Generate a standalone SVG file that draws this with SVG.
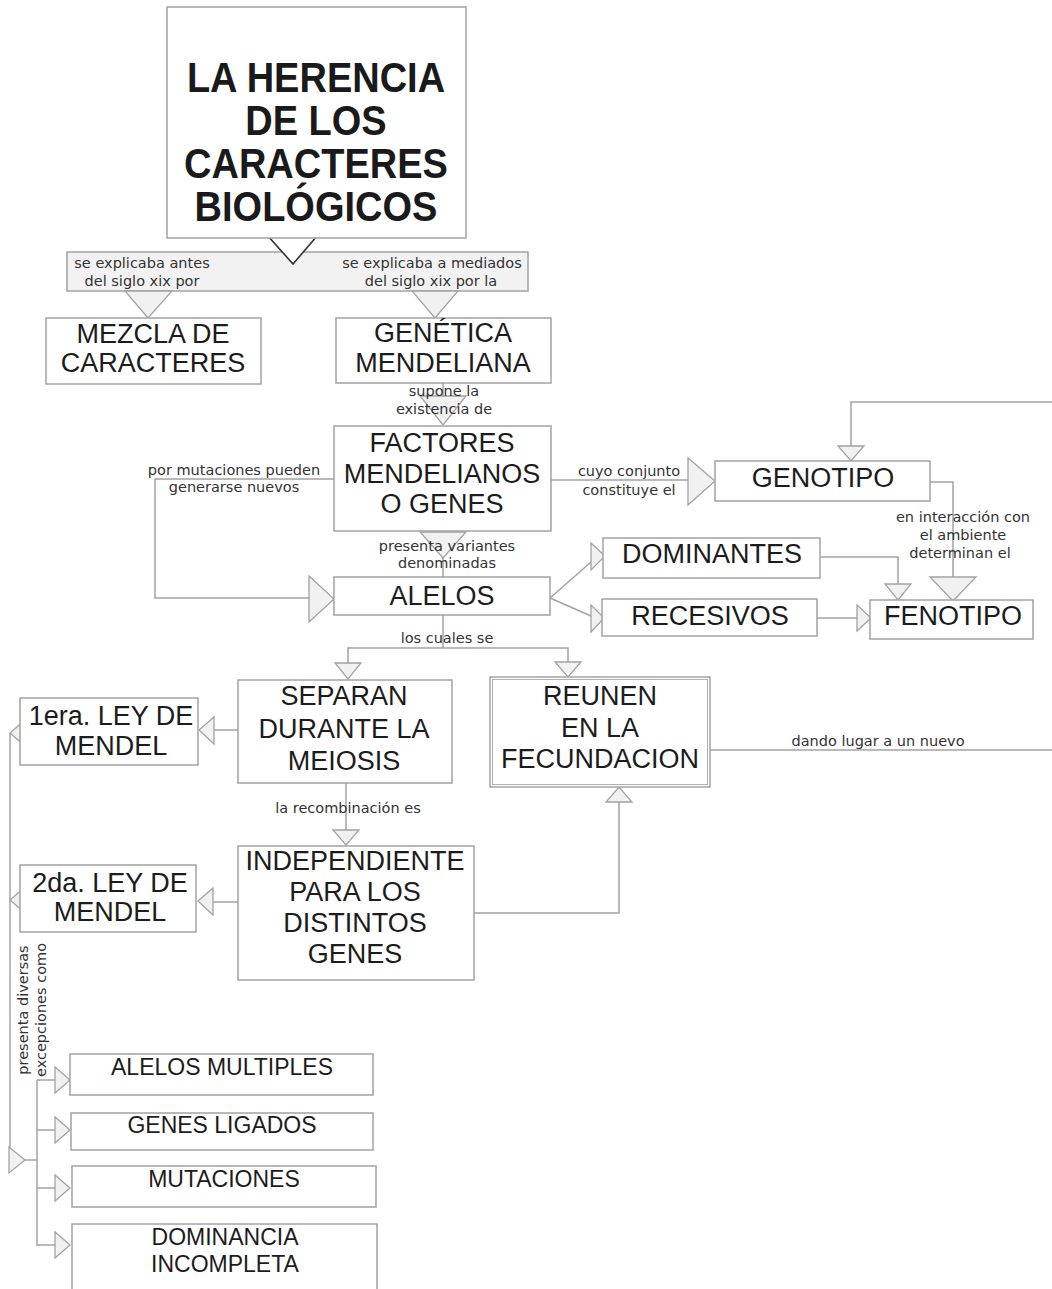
<svg xmlns="http://www.w3.org/2000/svg" width="1052" height="1289" viewBox="0 0 1052 1289">
<style>
.box{fill:#fff;stroke:#a3a3a3;stroke-width:1.5}
.ln{fill:none;stroke:#a3a3a3;stroke-width:1.5}
.tri{fill:#f1f1f1;stroke:#a3a3a3;stroke-width:1.3}
.nt{font-family:"Liberation Sans",Arial,sans-serif;font-size:27px;fill:#1c1c1c;text-anchor:middle}
.st{font-family:"Liberation Sans",Arial,sans-serif;font-size:23px;fill:#1c1c1c;text-anchor:middle}
.lb{font-family:"DejaVu Sans",sans-serif;font-size:14.5px;fill:#333;text-anchor:middle}
.tt{font-family:"Liberation Sans",Arial,sans-serif;font-size:38px;font-weight:bold;fill:#1a1a1a;text-anchor:middle}
</style>
<rect width="1052" height="1289" fill="#fff"/>

<g id="connectors">
  <!-- band -->
  <rect x="67" y="252" width="461" height="39" fill="#f2f2f2" stroke="#a3a3a3" stroke-width="1.5"/>
  <polygon class="tri" points="125,291 172,291 148,318"/>
  <polygon class="tri" points="412,291 458,291 435,318"/>
  <polygon points="268,236 317,236 293,264" fill="#fff" stroke="#333" stroke-width="1.6"/>
  <!-- genetica -> factores -->
  <line class="ln" x1="443" y1="383" x2="443" y2="396"/>
  <polygon class="tri" points="420,396 466,396 443,425"/>
  <!-- factores -> alelos -->
  <polygon class="tri" points="420,532 466,532 443,558"/>
  <line class="ln" x1="443" y1="558" x2="443" y2="577"/>
  <!-- factores -> genotipo -->
  <line class="ln" x1="551" y1="480" x2="688" y2="480"/>
  <polygon class="tri" points="688,458 688,505 715,481"/>
  <!-- left loop -->
  <polyline class="ln" points="334,479 155,479 155,598 309,598"/>
  <polygon class="tri" points="309,576 309,622 334,599"/>
  <!-- top right to genotipo -->
  <polyline class="ln" points="1052,402 851,402 851,446"/>
  <polygon class="tri" points="838,446 864,446 851,461"/>
  <!-- genotipo -> fenotipo -->
  <polyline class="ln" points="930,482 953,482 953,577"/>
  <polygon class="tri" points="930,577 976,577 953,601"/>
  <!-- dominantes -> fenotipo -->
  <polyline class="ln" points="820,557 898,557 898,584"/>
  <polygon class="tri" points="885,584 911,584 898,600"/>
  <!-- recesivos -> fenotipo -->
  <line class="ln" x1="817" y1="618" x2="857" y2="618"/>
  <polygon class="tri" points="857,605 857,631 871,618"/>
  <!-- alelos -> dominantes / recesivos -->
  <line class="ln" x1="550" y1="598" x2="591" y2="562"/>
  <polygon class="tri" points="591,543 591,570 605,556"/>
  <line class="ln" x1="550" y1="598" x2="591" y2="616"/>
  <polygon class="tri" points="591,605 591,632 604,618"/>
  <!-- alelos -> separan / reunen -->
  <line class="ln" x1="443" y1="615" x2="443" y2="648"/>
  <polyline class="ln" points="348,663 348,648 568,648 568,662"/>
  <polygon class="tri" points="335,663 361,663 348,679"/>
  <polygon class="tri" points="555,662 581,662 568,677"/>
  <!-- separan -> 1era -->
  <line class="ln" x1="238" y1="730" x2="214" y2="730"/>
  <polygon class="tri" points="214,717 214,744 199,730"/>
  <!-- separan -> independiente -->
  <line class="ln" x1="346" y1="783" x2="346" y2="830"/>
  <polygon class="tri" points="333,830 359,830 346,845"/>
  <!-- independiente -> 2da -->
  <line class="ln" x1="238" y1="902" x2="213" y2="902"/>
  <polygon class="tri" points="213,888 213,915 198,901"/>
  <!-- independiente -> reunen -->
  <polyline class="ln" points="474,913 619,913 619,802"/>
  <polygon class="tri" points="606,802 632,802 619,787"/>
  <!-- reunen -> right -->
  <line class="ln" x1="710" y1="750" x2="1052" y2="750"/>
  <!-- left side leyes -> excepciones -->
  <line class="ln" x1="10" y1="733" x2="10" y2="1160"/>
  <polygon class="tri" points="25,720 25,746 10,733"/>
  <polygon class="tri" points="25,887 25,913 10,900"/>
  <polygon class="tri" points="9,1147 9,1173 25,1160"/>
  <line class="ln" x1="25" y1="1160" x2="37" y2="1160"/>
  <line class="ln" x1="37" y1="1080" x2="37" y2="1246"/>
  <line class="ln" x1="37" y1="1080" x2="55" y2="1080"/>
  <polygon class="tri" points="55,1067 55,1093 70,1080"/>
  <line class="ln" x1="37" y1="1130" x2="55" y2="1130"/>
  <polygon class="tri" points="55,1117 55,1143 70,1130"/>
  <line class="ln" x1="37" y1="1188" x2="55" y2="1188"/>
  <polygon class="tri" points="55,1175 55,1201 70,1188"/>
  <line class="ln" x1="37" y1="1245" x2="55" y2="1245"/>
  <polygon class="tri" points="55,1232 55,1258 70,1245"/>

  <!-- connector labels -->
  <text class="lb" x="142" y="268">se explicaba antes</text>
  <text class="lb" x="142" y="286">del siglo xix por</text>
  <text class="lb" x="432" y="268">se explicaba a mediados</text>
  <text class="lb" x="431" y="286">del siglo xix por la</text>
  <text class="lb" x="444" y="396">supone la</text>
  <text class="lb" x="444" y="414">existencia de</text>
  <text class="lb" x="234" y="475">por mutaciones pueden</text>
  <text class="lb" x="234" y="492">generarse nuevos</text>
  <text class="lb" x="447" y="551">presenta variantes</text>
  <text class="lb" x="447" y="568">denominadas</text>
  <text class="lb" x="629" y="476">cuyo conjunto</text>
  <text class="lb" x="629" y="495">constituye el</text>
  <text class="lb" x="963" y="522">en interacción con</text>
  <text class="lb" x="963" y="540">el ambiente</text>
  <text class="lb" x="960" y="558">determinan el</text>
  <text class="lb" x="447" y="643">los cuales se</text>
  <text class="lb" x="348" y="813">la recombinación es</text>
  <text class="lb" x="878" y="746">dando lugar a un nuevo</text>
  <text class="lb" transform="translate(28,1010) rotate(-90)">presenta diversas</text>
  <text class="lb" transform="translate(46,1010) rotate(-90)">excepciones como</text>
</g>

<g id="titulo">
  <rect class="box" x="167" y="7" width="299" height="231"/>
  <g transform="matrix(1,0,0,1.1,0,0)">
    <text class="tt" x="316" y="83.6">LA HERENCIA</text>
    <text class="tt" x="316" y="122.7">DE LOS</text>
    <text class="tt" x="316" y="161.8">CARACTERES</text>
    <text class="tt" x="316" y="200.9">BIOLÓGICOS</text>
  </g>
</g>

<g id="mezcla">
  <rect class="box" x="46" y="318" width="215" height="66"/>
  <text class="nt" x="153" y="343">MEZCLA DE</text>
  <text class="nt" x="153" y="372">CARACTERES</text>
</g>

<g id="genetica">
  <rect class="box" x="336" y="318" width="215" height="65"/>
  <text class="nt" x="443" y="342">GENÉTICA</text>
  <text class="nt" x="443" y="372">MENDELIANA</text>
</g>

<g id="factores">
  <rect class="box" x="334" y="426" width="217" height="105"/>
  <text class="nt" x="442" y="452">FACTORES</text>
  <text class="nt" x="442" y="483">MENDELIANOS</text>
  <text class="nt" x="442" y="513">O GENES</text>
</g>

<g id="genotipo">
  <rect class="box" x="715" y="461" width="215" height="40"/>
  <text class="nt" x="823" y="487">GENOTIPO</text>
</g>

<g id="alelos">
  <rect class="box" x="334" y="577" width="216" height="38"/>
  <text class="nt" x="442" y="605">ALELOS</text>
</g>

<g id="dominantes">
  <rect class="box" x="603" y="538" width="217" height="40"/>
  <text class="nt" x="712" y="563">DOMINANTES</text>
</g>

<g id="recesivos">
  <rect class="box" x="602" y="599" width="215" height="37"/>
  <text class="nt" x="710" y="625">RECESIVOS</text>
</g>

<g id="fenotipo">
  <rect class="box" x="870" y="600" width="163" height="39"/>
  <text class="nt" x="953" y="625">FENOTIPO</text>
</g>

<g id="separan">
  <rect class="box" x="238" y="680" width="214" height="103"/>
  <text class="nt" x="344" y="705">SEPARAN</text>
  <text class="nt" x="344" y="738">DURANTE LA</text>
  <text class="nt" x="344" y="770">MEIOSIS</text>
</g>

<g id="reunen">
  <rect class="box" x="490" y="677" width="220" height="110" stroke="#8a8a8a"/>
  <rect x="492.5" y="679.5" width="215" height="105" fill="none" stroke="#b0b0b0" stroke-width="1"/>
  <text class="nt" x="600" y="705">REUNEN</text>
  <text class="nt" x="600" y="737">EN LA</text>
  <text class="nt" x="600" y="768">FECUNDACION</text>
</g>

<g id="ley1">
  <rect class="box" x="20" y="698" width="178" height="67"/>
  <text class="nt" x="111" y="725">1era. LEY DE</text>
  <text class="nt" x="111" y="755">MENDEL</text>
</g>

<g id="independiente">
  <rect class="box" x="238" y="846" width="236" height="134"/>
  <text class="nt" x="355" y="870">INDEPENDIENTE</text>
  <text class="nt" x="355" y="901">PARA LOS</text>
  <text class="nt" x="355" y="932">DISTINTOS</text>
  <text class="nt" x="355" y="963">GENES</text>
</g>

<g id="ley2">
  <rect class="box" x="20" y="865" width="176" height="67"/>
  <text class="nt" x="110" y="892">2da. LEY DE</text>
  <text class="nt" x="110" y="921">MENDEL</text>
</g>

<g id="alelos-multiples">
  <rect class="box" x="70" y="1054" width="303" height="41"/>
  <text class="st" x="222" y="1075">ALELOS MULTIPLES</text>
</g>

<g id="genes-ligados">
  <rect class="box" x="71" y="1113" width="302" height="37"/>
  <text class="st" x="222" y="1133">GENES LIGADOS</text>
</g>

<g id="mutaciones">
  <rect class="box" x="72" y="1166" width="304" height="41"/>
  <text class="st" x="224" y="1187">MUTACIONES</text>
</g>

<g id="dominancia-incompleta">
  <rect class="box" x="72" y="1224" width="305" height="80"/>
  <text class="st" x="225" y="1245">DOMINANCIA</text>
  <text class="st" x="225" y="1272">INCOMPLETA</text>
</g>
</svg>
